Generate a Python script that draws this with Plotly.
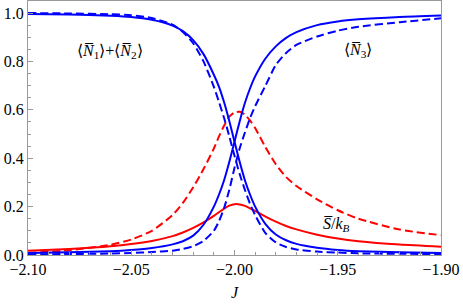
import plotly.graph_objects as go

J = [-2.10, -2.08, -2.06, -2.05, -2.04, -2.03, -2.025, -2.02, -2.015, -2.01, -2.0075, -2.005, -2.0025,
     -2.0, -1.9975, -1.995, -1.9925, -1.99, -1.985, -1.98, -1.975, -1.97, -1.96, -1.95, -1.94, -1.92, -1.90]

n12_solid = [0.996, 0.994, 0.989, 0.984, 0.972, 0.948, 0.925, 0.888, 0.830, 0.745, 0.695, 0.630, 0.553,
             0.468, 0.385, 0.310, 0.250, 0.200, 0.128, 0.085, 0.061, 0.046, 0.030, 0.021, 0.016, 0.011, 0.008]
n12_dashed = [1.0, 0.998, 0.995, 0.991, 0.979, 0.952, 0.922, 0.875, 0.800, 0.695, 0.632, 0.565, 0.490,
              0.410, 0.335, 0.270, 0.212, 0.165, 0.090, 0.052, 0.033, 0.023, 0.014, 0.010, 0.007, 0.005, 0.004]
n3_solid = [0.008, 0.011, 0.016, 0.021, 0.029, 0.044, 0.057, 0.080, 0.125, 0.200, 0.250, 0.310, 0.385,
            0.468, 0.552, 0.627, 0.688, 0.738, 0.812, 0.862, 0.897, 0.921, 0.950, 0.965, 0.974, 0.984, 0.990]
n3_dashed = [0.003, 0.004, 0.006, 0.008, 0.012, 0.018, 0.025, 0.036, 0.058, 0.100, 0.140, 0.195, 0.270,
             0.360, 0.440, 0.505, 0.565, 0.615, 0.700, 0.785, 0.835, 0.868, 0.903, 0.927, 0.943, 0.962, 0.978]
s_solid = [0.018, 0.025, 0.036, 0.045, 0.058, 0.078, 0.093, 0.112, 0.135, 0.162, 0.177, 0.192, 0.204,
           0.210, 0.209, 0.203, 0.193, 0.182, 0.159, 0.138, 0.120, 0.106, 0.084, 0.068, 0.057, 0.043, 0.034]
s_dashed = [0.008, 0.020, 0.042, 0.064, 0.100, 0.165, 0.215, 0.280, 0.355, 0.440, 0.490, 0.535, 0.572,
            0.589, 0.592, 0.580, 0.556, 0.525, 0.445, 0.375, 0.322, 0.285, 0.230, 0.185, 0.150, 0.105, 0.082]

labels = ["⟨<i>N̅</i><sub>1</sub>⟩+⟨<i>N̅</i><sub>2</sub>⟩", "⟨<i>N̅</i><sub>3</sub>⟩",
          "<i>S̅</i>/<i>k</i><sub><i>B</i></sub>"]
label_x = [-2.0603, -1.9402, -1.9504]
label_y = [0.843, 0.847, 0.128]

BLUE = "#0000ff"
RED = "#ff0000"
DASH = "8px,4px"
SERIF = "'Liberation Serif', 'Times New Roman', Times, serif"

fig = go.Figure()
series = [
    (s_solid, RED, "solid"),
    (s_dashed, RED, DASH),
    (n12_solid, BLUE, "solid"),
    (n12_dashed, BLUE, DASH),
    (n3_solid, BLUE, "solid"),
    (n3_dashed, BLUE, DASH),
]
for ys, col, dash in series:
    fig.add_trace(go.Scatter(x=J, y=ys, mode="lines",
                             line=dict(color=col, width=2, dash=dash, shape="spline", smoothing=0.6),
                             showlegend=False, hoverinfo="skip"))

for t, xx, yy in zip(labels, label_x, label_y):
    fig.add_annotation(x=xx, y=yy, text=t, showarrow=False,
                       font=dict(family=SERIF, size=16, color="black"))

fig.add_annotation(x=-2.0, y=-0.105, xref="x", yref="paper", yanchor="top", text="<i>J</i>",
                   showarrow=False, font=dict(family=SERIF, size=16, color="black"))

axis_common = dict(showgrid=False, zeroline=False, showline=True, linecolor="#999999",
                   linewidth=1, mirror=True, ticks="inside", tickcolor="#999999",
                   tickfont=dict(family=SERIF, size=16, color="black"))

fig.update_xaxes(range=[-2.10, -1.90], dtick=0.05, tick0=-2.10, tickformat=".2f", ticklen=5,
                 minor=dict(dtick=0.01, tick0=-2.10, ticklen=3, ticks="inside", tickcolor="#999999"),
                 **axis_common)
fig.update_yaxes(range=[0, 1.0496], dtick=0.2, tick0=0, tickformat=".1f", ticklen=5,
                 minor=dict(dtick=0.05, tick0=0, ticklen=3, ticks="inside", tickcolor="#999999"),
                 **axis_common)

fig.update_layout(width=463, height=304, margin=dict(l=28, r=22, t=1, b=49),
                  plot_bgcolor="white", paper_bgcolor="white",
                  font=dict(family=SERIF, color="black"))

fig.write_html("out.html", config={"displayModeBar": False},
               post_script="document.body.style.margin='0';document.body.style.padding='0';")
